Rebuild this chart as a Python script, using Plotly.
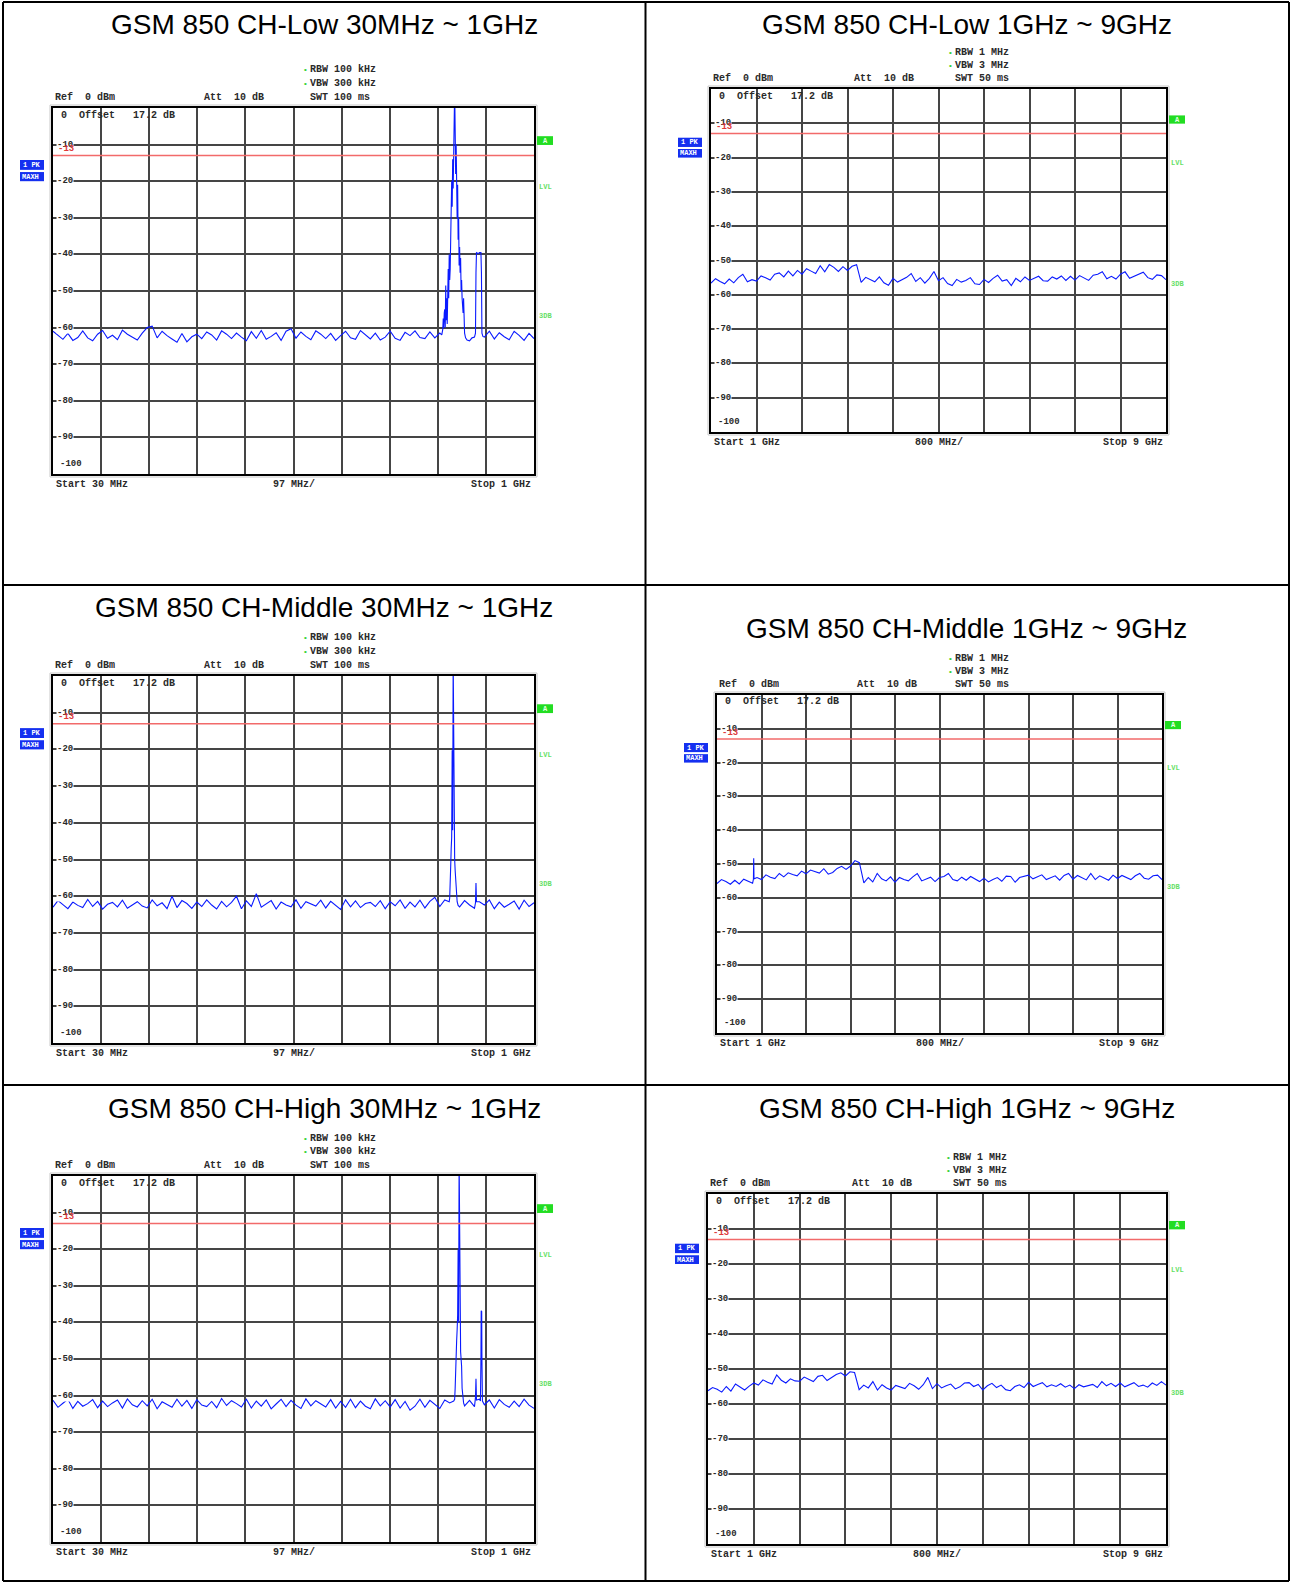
# %%
import numpy as np
import plotly.graph_objects as go

# %%
# six spectrum analyzer screenshots (GSM 850 conducted spurious)
titles = [
    "GSM 850 CH-Low 30MHz ~ 1GHz", "GSM 850 CH-Low 1GHz ~ 9GHz",
    "GSM 850 CH-Middle 30MHz ~ 1GHz", "GSM 850 CH-Middle 1GHz ~ 9GHz",
    "GSM 850 CH-High 30MHz ~ 1GHz", "GSM 850 CH-High 1GHz ~ 9GHz",
]

lowSpan = [30, 1000]      # MHz, 97 MHz/div
highSpan = [1000, 9000]   # MHz, 800 MHz/div
yTicks = [-10, -20, -30, -40, -50, -60, -70, -80, -90]
limitLine = -13           # dBm

lowSettings = ["RBW 100 kHz", "VBW 300 kHz", "SWT 100 ms"]
highSettings = ["RBW 1 MHz", "VBW 3 MHz", "SWT 50 ms"]
lowFooter = ["Start 30 MHz", "97 MHz/", "Stop 1 GHz"]
highFooter = ["Start 1 GHz", "800 MHz/", "Stop 9 GHz"]

# %%
# trace levels on the sweep grid (30..1000 MHz every 10 MHz / 1..9 GHz every 80 MHz)
tlLevels = [
    -61.0, -62.2, -63.2, -61.6, -63.5, -62.7, -60.9, -62.8, -63.6, -61.8,
    -60.8, -62.9, -62.1, -63.3, -60.7, -61.8, -62.6, -63.4, -61.5, -60.0,
    -59.6, -62.8, -61.0, -62.2, -63.1, -64.0, -61.6, -63.9, -62.5, -61.8,
    -63.0, -61.2, -62.0, -63.4, -60.9, -61.8, -63.0, -61.5, -62.6, -63.6,
    -61.1, -62.9, -60.8, -63.2, -62.4, -61.4, -63.5, -61.0, -60.3, -62.9,
    -61.2, -62.4, -63.3, -60.9, -61.8, -63.0, -61.6, -63.5, -62.2, -61.0,
    -62.8, -63.2, -60.8, -62.0, -63.1, -61.5, -63.4, -62.6, -61.0, -62.9,
    -63.5, -61.3, -62.2, -60.9, -62.7, -63.0, -61.2, -62.8, -61.5, -55.0,
    -47.0, 5.0, -38.0, -61.5, -63.6, -62.6, -39.5, -62.6, -61.0, -63.1,
    -61.4, -62.5, -63.3, -61.0, -62.1, -63.5, -61.6, -63.0,
]
tlExtraF = [814, 816, 817, 818, 819, 821, 822, 823, 824, 825, 826, 827, 828, 829,
            831, 832, 833, 834, 835, 836, 837, 838, 839, 841, 842, 843, 844, 845,
            846, 847, 848, 849, 851, 852, 853, 854, 855, 857, 858, 859, 862, 865,
            875, 882, 883, 884, 888, 893, 894, 895, 897]
tlExtraDb = [-62.0, -60.5, -57.5, -60.2, -56.0, -60.0, -48.5, -58.0, -52.0, -59.0,
             -50.0, -44.0, -52.0, -40.0, -44.0, -36.0, -30.0, -20.0, -27.0, -14.0,
             -22.0, -6.0, 3.0, -6.0, -18.0, -10.0, -24.0, -30.0, -21.0, -36.0,
             -30.0, -43.0, -45.0, -41.0, -50.0, -47.0, -52.0, -56.0, -52.0, -60.0,
             -62.8, -63.4, -62.8, -61.5, -45.0, -39.5, -39.8, -39.5, -45.0, -61.5,
             -62.4]

trLevels = [
    -56.6, -55.3, -56.1, -56.8, -55.4, -56.5, -55.0, -54.0, -56.2, -55.6,
    -56.0, -54.5, -55.0, -55.7, -54.0, -53.6, -54.8, -53.1, -54.5, -52.9,
    -54.0, -52.4, -53.1, -53.8, -51.5, -53.3, -51.2, -52.0, -53.2, -51.8,
    -52.9, -51.7, -51.2, -56.4, -54.9, -55.5, -56.2, -54.8, -56.5, -57.2,
    -55.2, -56.3, -55.6, -54.9, -53.8, -56.1, -55.0, -56.6, -55.2, -53.2,
    -55.9, -55.0, -56.7, -57.3, -55.5, -56.3, -55.8, -55.0, -56.8, -57.0,
    -55.5, -56.4, -55.2, -54.3, -56.0, -55.6, -57.3, -55.2, -56.2, -54.8,
    -55.8, -55.2, -54.6, -55.9, -56.0, -54.8, -55.4, -54.5, -55.8, -54.6,
    -55.7, -54.4, -55.0, -55.8, -54.3, -54.0, -53.3, -55.3, -54.6, -55.4,
    -54.0, -53.3, -55.2, -54.6, -54.0, -53.4, -55.0, -55.5, -54.2, -54.4, -55.6,
]
trExtraF = []
trExtraDb = []

mlLevels = [
    -63.0, -61.2, -62.3, -63.4, -61.6, -62.5, -63.1, -60.9, -62.8, -61.4,
    -63.5, -62.2, -61.7, -62.9, -61.1, -63.3, -62.4, -61.5, -62.7, -63.2,
    -61.0, -62.6, -61.8, -63.4, -60.0, -63.1, -61.2, -62.0, -63.3, -61.6,
    -62.8, -61.0, -62.4, -63.5, -61.4, -62.9, -61.7, -60.0, -63.4, -61.3,
    -62.8, -59.3, -63.0, -62.1, -61.2, -63.5, -61.6, -62.4, -62.9, -61.0,
    -63.3, -61.5, -62.2, -62.7, -61.1, -63.2, -61.4, -62.5, -63.6, -61.0,
    -62.9, -61.3, -63.1, -62.0, -61.7, -62.8, -61.2, -63.4, -61.5, -62.6,
    -61.0, -63.3, -61.6, -62.9, -61.1, -63.2, -61.4, -60.3, -62.8, -61.0,
    -60.5, -50.0, -62.9, -61.2, -62.4, -63.3, -61.5, -62.4, -61.0, -63.4,
    -61.6, -63.0, -62.2, -61.3, -63.5, -61.1, -62.8, -61.8,
]
mlExtraF = [829, 831, 832, 833, 834, 835, 836, 837, 838, 839, 841, 842, 843, 844,
            845, 847, 882, 883, 884]
mlExtraDb = [-61.5, -58.0, -52.0, -47.0, -44.0, -20.2, -42.0, 5.0, -22.0, -44.0,
             -53.0, -55.0, -59.0, -60.0, -61.5, -62.5, -61.8, -56.4, -61.5]

mrLevels = [
    -55.8, -54.6, -55.2, -56.0, -54.8, -55.9, -54.5, -55.0, -55.7, -54.0,
    -54.6, -53.2, -53.9, -54.3, -52.8, -53.8, -52.6, -53.1, -53.5, -52.1,
    -52.9, -51.8, -52.3, -52.7, -51.4, -53.0, -52.5, -51.3, -50.7, -51.6,
    -50.6, -49.0, -49.6, -55.6, -54.0, -55.3, -52.8, -54.4, -55.0, -53.8,
    -55.4, -54.0, -54.6, -55.0, -53.8, -52.8, -55.0, -54.4, -53.9, -55.2,
    -54.0, -53.7, -52.8, -54.6, -55.0, -53.9, -54.8, -53.7, -54.5, -55.2,
    -54.2, -55.3, -54.6, -54.0, -55.1, -53.6, -53.7, -55.4, -54.0, -53.6,
    -53.3, -54.4, -53.9, -53.2, -54.6, -54.1, -53.5, -54.8, -53.4, -52.8,
    -54.5, -53.4, -54.0, -54.7, -52.8, -54.6, -53.5, -54.1, -54.8, -53.3,
    -54.3, -53.4, -54.0, -54.6, -53.5, -52.8, -54.2, -54.5, -53.5, -53.3, -54.6,
]
mrExtraF = [1655, 1660, 1665]
mrExtraDb = [-54.5, -48.3, -54.4]

blLevels = [
    -61.3, -63.2, -62.1, -61.0, -63.5, -61.6, -62.9, -62.2, -61.1, -63.3,
    -61.5, -63.0, -62.0, -61.2, -63.4, -60.9, -62.5, -63.1, -61.4, -62.8,
    -61.0, -63.6, -61.7, -62.4, -63.2, -61.0, -62.9, -61.3, -63.5, -61.1,
    -62.6, -63.0, -61.6, -63.3, -60.8, -62.7, -61.4, -62.2, -63.1, -61.0,
    -63.4, -61.5, -62.9, -61.2, -63.6, -62.3, -61.0, -63.0, -61.3, -62.6,
    -63.5, -60.9, -62.8, -61.4, -62.2, -63.1, -61.1, -63.4, -61.6, -63.2,
    -61.0, -63.3, -61.5, -62.9, -63.6, -60.9, -62.8, -61.4, -63.1, -61.1,
    -63.4, -61.6, -64.0, -62.9, -61.0, -63.2, -61.3, -62.5, -63.5, -61.2,
    -62.0, -61.0, -30.0, -62.8, -61.3, -63.0, -61.0, -62.5, -61.2, -63.4,
    -61.1, -62.4, -63.2, -61.5, -63.0, -61.0, -62.6, -63.5,
]
blExtraF = [838, 841, 842, 843, 844, 845, 846, 847, 848, 849, 851, 852, 853, 854,
            855, 856, 858, 882, 883, 884, 892, 893, 893.5, 894.5, 895, 896]
blExtraDb = [-61.5, -58.0, -50.0, -52.0, -45.0, -42.0, -38.0, -20.2, -40.0, 5.0,
             -42.0, -48.0, -50.0, -52.0, -58.0, -60.0, -62.0, -60.5, -55.4, -61.2,
             -61.5, -50.0, -36.8, -37.0, -50.0, -61.5]

brLevels = [
    -56.2, -55.3, -55.8, -56.6, -55.0, -56.3, -54.3, -55.2, -56.0, -54.9,
    -54.0, -54.6, -53.1, -53.8, -54.3, -51.7, -53.2, -54.0, -52.8, -53.4,
    -53.5, -52.3, -52.9, -53.6, -52.1, -51.8, -53.3, -52.5, -51.6, -51.1,
    -52.0, -50.8, -51.0, -55.9, -54.6, -55.4, -53.6, -56.0, -54.5, -55.4,
    -56.0, -54.7, -55.2, -55.6, -54.1, -54.8, -55.8, -54.5, -52.4, -55.6,
    -54.2, -55.4, -54.8, -54.3, -55.7, -55.1, -54.0, -53.9, -55.0, -54.4,
    -56.0, -54.8, -54.1, -55.3, -54.6, -55.9, -56.2, -55.0, -54.5, -55.3,
    -53.8, -55.0, -54.4, -53.9, -55.1, -54.5, -55.0, -54.2, -55.2, -54.6,
    -55.6, -54.5, -55.1, -54.8, -54.4, -55.3, -53.6, -54.8, -54.1, -55.0,
    -54.0, -55.1, -54.5, -53.9, -55.0, -54.6, -55.2, -54.0, -54.7, -53.6, -54.6,
]
brExtraF = []
brExtraDb = []

# %%
W, H = 1290, 1582
mono = "Liberation Mono"
sans = "Liberation Sans"

def px(x):
    return x / W

def py(y):
    return 1 - y / H

def nb(s):
    return s.replace(" ", "\u00a0")

annotations = []
shapes = []

def text(x, y, s, size=10, color="#2a2a2a", xanchor="left", family=mono, bold=True, bg=None):
    annotations.append(dict(
        x=px(x), y=py(y), xref="paper", yref="paper", text=nb(s), showarrow=False,
        xanchor=xanchor, yanchor="middle", bgcolor=bg, borderpad=0,
        font=dict(family=family, size=size, color=color, weight="bold" if bold else "normal"),
    ))

def box(x0, y0, x1, y1, fill, line=None):
    shapes.append(dict(type="rect", xref="paper", yref="paper",
                       x0=px(x0), x1=px(x1), y0=py(y1), y1=py(y0),
                       fillcolor=fill, line=dict(color=line or fill, width=1 if line else 0)))

# grid box of every screenshot in page pixels: x0, y0, x1, y1, title centre y
panels = [
    (53, 108, 534, 474, 24),
    (711, 89, 1166, 432, 24),
    (53, 676, 534, 1043, 607),
    (717, 695, 1162, 1033, 628),
    (53, 1176, 534, 1542, 1108),
    (708, 1194, 1166, 1544, 1108),
]
levels = [tlLevels, trLevels, mlLevels, mrLevels, blLevels, brLevels]
extraF = [tlExtraF, trExtraF, mlExtraF, mrExtraF, blExtraF, brExtraF]
extraDb = [tlExtraDb, trExtraDb, mlExtraDb, mrExtraDb, blExtraDb, brExtraDb]

fig = go.Figure()
layout = {}

for i, (x0, y0, x1, y1, ty) in enumerate(panels):
    s = "" if i == 0 else str(i + 1)
    low = i % 2 == 0
    span = lowSpan if low else highSpan
    settings = lowSettings if low else highSettings
    footer = lowFooter if low else highFooter
    w = x1 - x0

    # sweep points + the extra readings around carriers and spurs
    f = np.concatenate([np.linspace(span[0], span[1], len(levels[i])), extraF[i]])
    d = np.concatenate([levels[i], extraDb[i]])
    order = np.argsort(f, kind="stable")
    fig.add_trace(go.Scatter(
        x=f[order], y=d[order], xaxis="x" + s, yaxis="y" + s, mode="lines",
        line=dict(color="#0a1aff", width=1.1), hoverinfo="skip", showlegend=False,
    ))

    axis = dict(showgrid=True, gridcolor="#454545", gridwidth=1.5, zeroline=False,
                showticklabels=False, ticks="", showline=True, linecolor="black",
                linewidth=2, mirror=True, fixedrange=True)
    layout["xaxis" + s] = dict(axis, domain=[px(x0), px(x1)], range=span,
                               tick0=span[0], dtick=(span[1] - span[0]) / 10, anchor="y" + s)
    layout["yaxis" + s] = dict(axis, domain=[py(y1), py(y0)], range=[-100, 0],
                               tick0=0, dtick=10, anchor="x" + s)

    # light outer frame of the screen
    shapes.append(dict(type="rect", xref="paper", yref="paper", x0=px(x0 - 3), x1=px(x1 + 3),
                       y0=py(y1 + 3), y1=py(y0 - 3), line=dict(color="#c8c8c8", width=1)))

    # limit line
    shapes.append(dict(type="line", xref="x" + s + " domain", yref="y" + s, x0=0, x1=1,
                       y0=limitLine, y1=limitLine, line=dict(color="#f26a6a", width=1.5)))

    # title
    text(324 if low else 967, ty, titles[i], size=28, color="black", xanchor="center",
         family=sans, bold=False)

    # header rows
    off = (38.0, 24.2, 11.0) if low else (36.5, 23.4, 10.2)
    xs = x0 + 0.533 * w
    text(xs - 7, y0 - off[0], "•", size=8, color="#3ad23a")
    text(xs, y0 - off[0], settings[0])
    text(xs - 7, y0 - off[1], "•", size=8, color="#3ad23a")
    text(xs, y0 - off[1], settings[1])
    text(xs, y0 - off[2], settings[2])
    text(x0 + 1, y0 - off[2], "Ref  0 dBm")
    text(x0 + 0.312 * w, y0 - off[2], "Att  10 dB")
    text(x0 + 7, y0 + 7, "0  Offset   17.2 dB")

    # footer
    text(x0 + 2, y1 + 10.5, footer[0])
    text((x0 + x1) / 2, y1 + 10.5, footer[1], xanchor="center")
    text(x1 - 2, y1 + 10.5, footer[2], xanchor="right")

    # level labels inside the grid
    for t in yTicks:
        annotations.append(dict(
            x=0, y=t, xref="x" + s + " domain", yref="y" + s, text=nb(str(t)),
            showarrow=False, xanchor="left", yanchor="middle", xshift=3, bgcolor="white",
            borderpad=0, font=dict(family=mono, size=9, color="#2a2a2a", weight="bold"),
        ))
    annotations.append(dict(
        x=0, y=-10, xref="x" + s + " domain", yref="y" + s, text=nb(str(limitLine)),
        showarrow=False, xanchor="left", yanchor="middle", xshift=3, yshift=-4,
        font=dict(family=mono, size=9, color="#e03a3a", weight="bold"),
    ))
    annotations.append(dict(
        x=0, y=-100, xref="x" + s + " domain", yref="y" + s, text=nb("-100"),
        showarrow=False, xanchor="left", yanchor="bottom", xshift=5, yshift=3,
        font=dict(family=mono, size=9, color="#2a2a2a", weight="bold"),
    ))

    # trace badge on the left
    dbpx = (y1 - y0) / 100
    box(x0 - 33, y0 + 14.2 * dbpx, x0 - 9, y0 + 16.9 * dbpx, "#1530f0")
    text(x0 - 31, y0 + 15.55 * dbpx, "1 PK", size=7, color="white")
    box(x0 - 33, y0 + 17.5 * dbpx, x0 - 9, y0 + 20.0 * dbpx, "#1530f0")
    text(x0 - 32, y0 + 18.75 * dbpx, "MAXH", size=7, color="white")

    # markers on the right
    box(x1 + 3, y0 + 7.7 * dbpx, x1 + 19, y0 + 10.1 * dbpx, "#22dd22")
    text(x1 + 11, y0 + 8.9 * dbpx, "A", size=7, color="#e8ffe8", xanchor="center")
    text(x1 + 4, y0 + 21.6 * dbpx, "LVL", size=7, color="#66e066")
    text(x1 + 4, y0 + 56.8 * dbpx, "3DB", size=7, color="#66e066")

# table rules
for (ax0, ay0, ax1, ay1) in [(3, 2, 1289, 2), (3, 1581, 1289, 1581), (3, 2, 3, 1581),
                             (1289, 2, 1289, 1581), (645.5, 2, 645.5, 1581),
                             (3, 585, 1289, 585), (3, 1085, 1289, 1085)]:
    shapes.append(dict(type="line", xref="paper", yref="paper", x0=px(ax0), x1=px(ax1),
                       y0=py(ay0), y1=py(ay1), line=dict(color="black", width=2)))

fig.update_layout(
    width=W, height=H, margin=dict(l=0, r=0, t=0, b=0),
    paper_bgcolor="white", plot_bgcolor="white",
    annotations=annotations, shapes=shapes, **layout,
)

# page body margin off so the figure sits at the window's corner
fig.write_html("out.html", config={"displayModeBar": False},
               post_script="document.body.style.margin='0';")
